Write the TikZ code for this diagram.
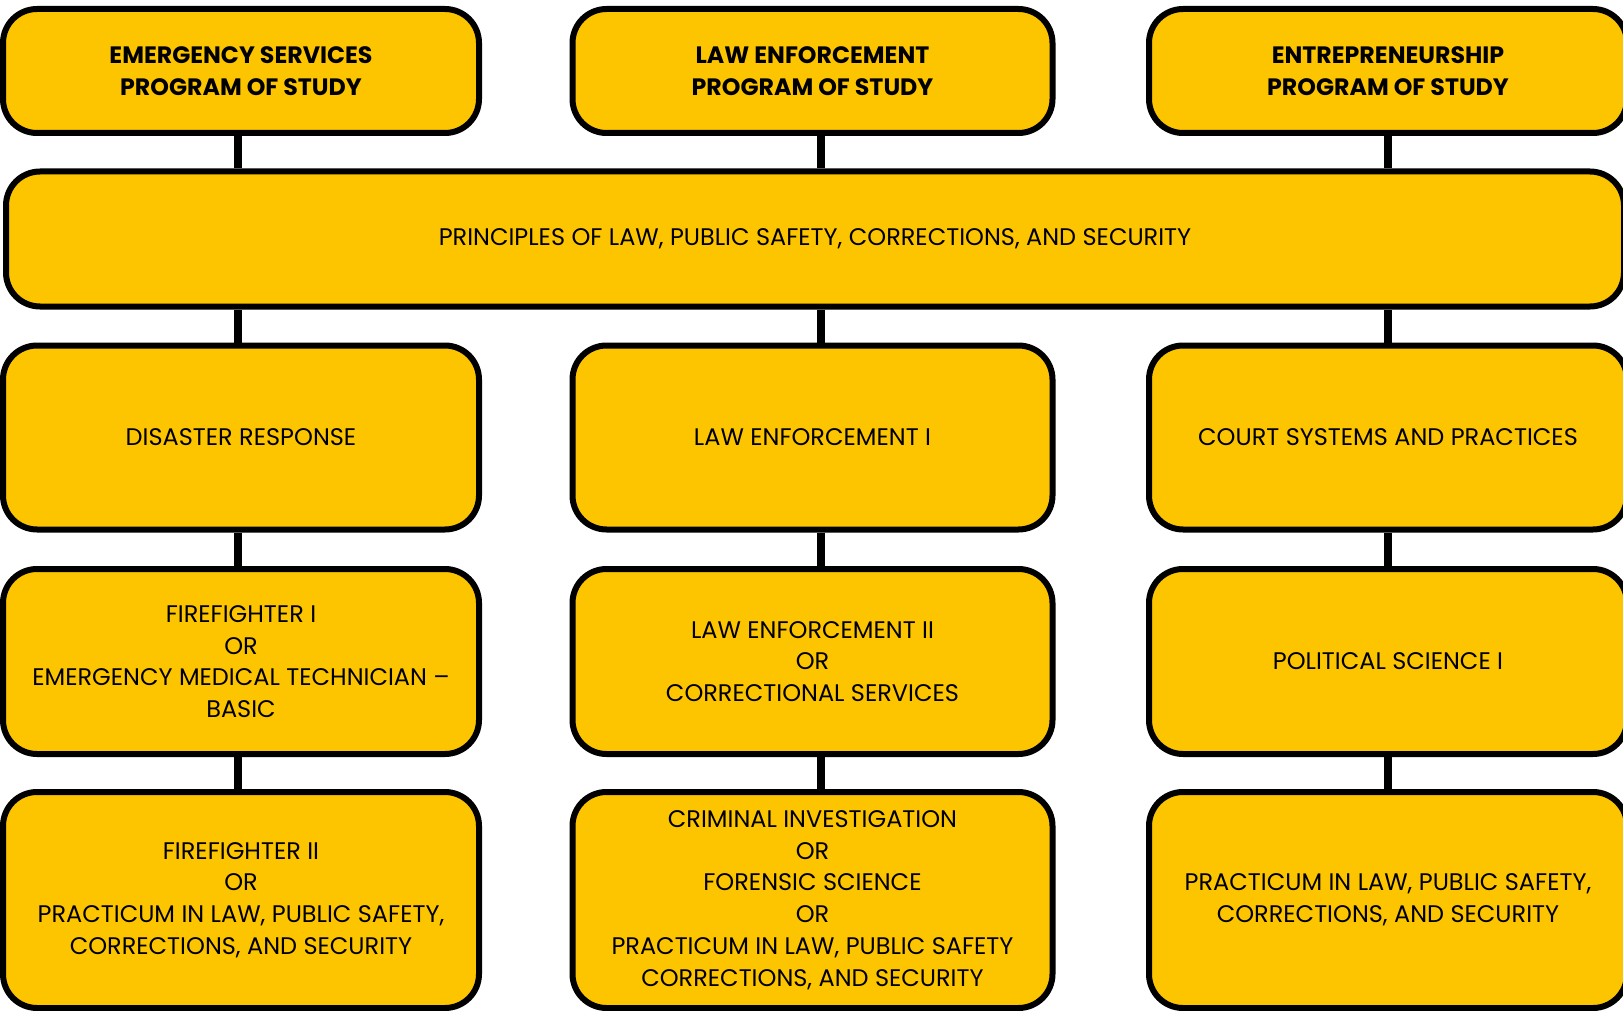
\documentclass[tikz,border=0pt]{standalone}
\usepackage{fontspec}
\setmainfont{Poppins}
\definecolor{boxfill}{HTML}{FDC500}
\begin{document}
\begin{tikzpicture}[x=1pt,y=-1pt,
  box/.style={draw=black, line width=6pt, fill=boxfill, rounded corners=34pt,
    inner sep=0pt, align=center, text=black,
    font=\fontsize{24}{31.7}\selectfont},
  head/.style={box, font=\fontsize{23.7}{31.7}\selectfont\bfseries},
  colL/.style={minimum width=476pt},
  colM/.style={minimum width=480pt},
  colR/.style={minimum width=478pt},
  conn/.style={draw=black, line width=8pt}]
\useasboundingbox (0,0) rectangle (1623,1011);
\clip (0,0) rectangle (1623,1011);
\fill[white] (0,0) rectangle (1623,1011);

% row 1
\node[head, colL, minimum height=124pt] (es) at (241,71) {EMERGENCY SERVICES\\PROGRAM OF STUDY};
\node[head, colM, minimum height=124pt] (le) at (812.5,71) {LAW ENFORCEMENT\\PROGRAM OF STUDY};
\node[head, colR, minimum height=124pt] (en) at (1388,71) {ENTREPRENEURSHIP\\PROGRAM OF STUDY};
% row 2
\node[box, minimum width=1618pt, minimum height=135pt] (pr) at (815,239) {PRINCIPLES OF LAW, PUBLIC SAFETY, CORRECTIONS, AND SECURITY};
% row 3
\node[box, colL, minimum height=184pt] (dr) at (241,437.5) {DISASTER RESPONSE};
\node[box, colM, minimum height=184pt] (lei) at (812.5,437.5) {LAW ENFORCEMENT I};
\node[box, colR, minimum height=184pt] (cs) at (1388,437.5) {COURT SYSTEMS AND PRACTICES};
% row 4
\node[box, colL, minimum height=185pt] (ffi) at (241,661.5) {FIREFIGHTER I\\OR\\EMERGENCY MEDICAL TECHNICIAN –\\BASIC};
\node[box, colM, minimum height=185pt] (leii) at (812.5,661.5) {LAW ENFORCEMENT II\\OR\\CORRECTIONAL SERVICES};
\node[box, colR, minimum height=185pt] (ps) at (1388,661.5) {POLITICAL SCIENCE I};
% row 5
\node[box, colL, minimum height=216pt] (ffii) at (241,900) {FIREFIGHTER II\\OR\\PRACTICUM IN LAW, PUBLIC SAFETY,\\CORRECTIONS, AND SECURITY};
\node[box, colM, minimum height=216pt] (ci) at (812.5,900) {CRIMINAL INVESTIGATION\\OR\\FORENSIC SCIENCE\\OR\\PRACTICUM IN LAW, PUBLIC SAFETY\\CORRECTIONS, AND SECURITY};
\node[box, colR, minimum height=216pt] (pp) at (1388,900) {PRACTICUM IN LAW, PUBLIC SAFETY,\\CORRECTIONS, AND SECURITY};

% connector columns
\coordinate (cL) at (237.5,0);
\coordinate (cM) at (820.5,0);
\coordinate (cR) at (1388,0);

\draw[conn] (cL |- es.south) -- (cL |- pr.north);
\draw[conn] (cM |- le.south) -- (cM |- pr.north);
\draw[conn] (cR |- en.south) -- (cR |- pr.north);

\draw[conn] (cL |- pr.south) -- (cL |- dr.north);
\draw[conn] (cM |- pr.south) -- (cM |- lei.north);
\draw[conn] (cR |- pr.south) -- (cR |- cs.north);

\draw[conn] (cL |- dr.south) -- (cL |- ffi.north);
\draw[conn] (cM |- lei.south) -- (cM |- leii.north);
\draw[conn] (cR |- cs.south) -- (cR |- ps.north);

\draw[conn] (cL |- ffi.south) -- (cL |- ffii.north);
\draw[conn] (cM |- leii.south) -- (cM |- ci.north);
\draw[conn] (cR |- ps.south) -- (cR |- pp.north);
\end{tikzpicture}
\end{document}
